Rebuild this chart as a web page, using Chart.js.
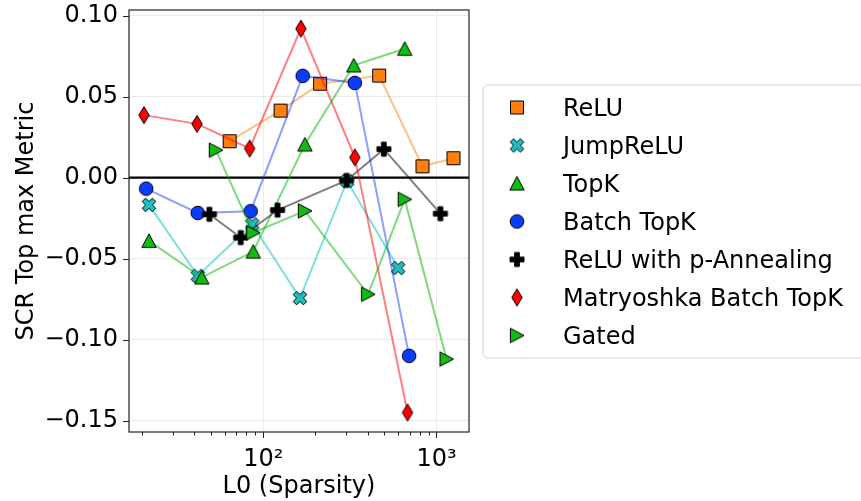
<!DOCTYPE html>
<html>
<head>
<meta charset="utf-8">
<script src="https://cdn.jsdelivr.net/npm/chart.js@4"></script>
<style>
  html, body { margin: 0; padding: 0; background: #fff; }
  canvas { display: block; }
</style>
</head>
<body>
<canvas id="chart" width="861" height="501"></canvas>
<script>
// SCR top-max metric against L0 sparsity, one series per SAE architecture
const seriesNames = ['ReLU', 'JumpReLU', 'TopK', 'Batch TopK', 'ReLU with p-Annealing', 'Matryoshka Batch TopK', 'Gated'];

const reluL0 = [64, 126, 213, 467, 830, 1254];
const reluScr = [0.0225, 0.0414, 0.058, 0.063, 0.007, 0.012];

const jumpL0 = [21.9, 41.9, 86.4, 163, 305, 601];
const jumpScr = [-0.0168, -0.0606, -0.0288, -0.0743, -0.002, -0.0558];

const topkL0 = [21.9, 44.2, 87.6, 174, 333, 656];
const topkScr = [-0.039, -0.0616, -0.0456, 0.0205, 0.0693, 0.0796];

const batchL0 = [21.1, 41.9, 84.6, 169, 338, 695];
const batchScr = [-0.0068, -0.0218, -0.0207, 0.0628, 0.0585, -0.110];

const pannL0 = [48.9, 74.1, 121, 303, 497, 1054];
const pannScr = [-0.0226, -0.037, -0.020, -0.0017, 0.0176, -0.0222];

const matryL0 = [20.5, 41.5, 83.5, 165, 338, 681];
const matryScr = [0.0386, 0.0332, 0.018, 0.092, 0.0125, -0.145];

const gatedL0 = [53.3, 87.5, 174, 403, 656, 1143];
const gatedScr = [0.017, -0.034, -0.0205, -0.072, -0.0134, -0.112];

const xMajorTicks = [100, 1000];
const xMinorTicks = [20, 30, 40, 50, 60, 70, 80, 90, 200, 300, 400, 500, 600, 700, 800, 900];
const yTicks = [-0.15, -0.10, -0.05, 0.00, 0.05, 0.10];

const FONT = 'DejaVu Sans';

// marker glyphs drawn once into small canvases
function makeMarker(shape, fill) {
  const c = document.createElement('canvas');
  c.width = 22; c.height = 22;
  const g = c.getContext('2d');
  g.translate(11, 11);
  g.beginPath();
  const poly = (pts, s) => {
    pts.forEach(([px, py], i) => i ? g.lineTo(px * s, py * s) : g.moveTo(px * s, py * s));
    g.closePath();
  };
  if (shape === 'square') {
    g.rect(-6.5, -6.5, 13, 13);
  } else if (shape === 'circle') {
    g.arc(0, 0, 6.8, 0, Math.PI * 2);
  } else if (shape === 'triUp') {
    poly([[0, -7], [7.2, 6.6], [-7.2, 6.6]], 1);
  } else if (shape === 'triRight') {
    poly([[7, 0], [-6.6, -7.2], [-6.6, 7.2]], 1);
  } else if (shape === 'thinDiamond') {
    poly([[0, -8.5], [5.2, 0], [0, 8.5], [-5.2, 0]], 1);
  } else if (shape === 'xFilled') {
    poly([[-1, -2], [0, -1], [1, -2], [2, -1], [1, 0], [2, 1], [1, 2], [0, 1], [-1, 2], [-2, 1], [-1, 0], [-2, -1]], 3.4);
  } else if (shape === 'plusFilled') {
    poly([[-1, -3], [-1, -1], [-3, -1], [-3, 1], [-1, 1], [-1, 3], [1, 3], [1, 1], [3, 1], [3, -1], [1, -1], [1, -3]], 14 / 6);
  }
  g.fillStyle = fill;
  g.fill();
  g.lineWidth = 1;
  g.strokeStyle = '#000';
  g.stroke();
  return c;
}

const styles = [
  { shape: 'square', fill: '#ff7f0e', line: 'rgba(255,127,14,0.5)' },
  { shape: 'xFilled', fill: '#1cbfbf', line: 'rgba(0,191,191,0.5)' },
  { shape: 'triUp', fill: '#11bb11', line: 'rgba(0,180,0,0.5)' },
  { shape: 'circle', fill: '#0a3cff', line: 'rgba(0,40,255,0.45)' },
  { shape: 'plusFilled', fill: '#000000', line: 'rgba(0,0,0,0.5)' },
  { shape: 'thinDiamond', fill: '#ff0000', line: 'rgba(255,0,0,0.5)' },
  { shape: 'triRight', fill: '#11bb11', line: 'rgba(0,180,0,0.5)' }
];
styles.forEach(s => { s.marker = makeMarker(s.shape, s.fill); });

const xs = [reluL0, jumpL0, topkL0, batchL0, pannL0, matryL0, gatedL0];
const ys = [reluScr, jumpScr, topkScr, batchScr, pannScr, matryScr, gatedScr];

const datasets = seriesNames.map((name, i) => ({
  label: name,
  data: xs[i].map((x, k) => ({ x: x, y: ys[i][k] })),
  borderColor: styles[i].line,
  borderWidth: 2,
  pointStyle: styles[i].marker,
  pointRadius: 7,
  pointHoverRadius: 7,
  tension: 0,
  fill: false,
  order: seriesNames.length - i
}));

// zero line, spines, tick marks and the legend box
const decorations = {
  id: 'decorations',
  beforeDatasetsDraw(chart) {
    const { ctx, chartArea: a, scales: { y } } = chart;
    const y0 = y.getPixelForValue(0);
    ctx.save();
    ctx.strokeStyle = '#000';
    ctx.lineWidth = 2.2;
    ctx.beginPath();
    ctx.moveTo(a.left, y0);
    ctx.lineTo(a.right, y0);
    ctx.stroke();
    ctx.restore();
  },
  afterDraw(chart) {
    const { ctx, chartArea: a, scales: { x, y } } = chart;
    ctx.save();
    ctx.strokeStyle = '#222';
    ctx.lineWidth = 1.2;
    ctx.strokeRect(a.left, a.top, a.right - a.left, a.bottom - a.top);
    ctx.lineWidth = 1;
    ctx.beginPath();
    xMajorTicks.forEach(v => {
      const px = Math.round(x.getPixelForValue(v)) + 0.5;
      ctx.moveTo(px, a.bottom); ctx.lineTo(px, a.bottom + 6);
    });
    xMinorTicks.forEach(v => {
      const px = Math.round(x.getPixelForValue(v)) + 0.5;
      ctx.moveTo(px, a.bottom); ctx.lineTo(px, a.bottom + 3.5);
    });
    yTicks.forEach(v => {
      const py = Math.round(y.getPixelForValue(v)) + 0.5;
      ctx.moveTo(a.left, py); ctx.lineTo(a.left - 6, py);
    });
    ctx.stroke();

    // legend
    const bx = 483, by = 85, bw = 400, bh = 273, r = 5;
    ctx.beginPath();
    ctx.moveTo(bx + r, by);
    ctx.lineTo(bx + bw - r, by);
    ctx.arcTo(bx + bw, by, bx + bw, by + r, r);
    ctx.lineTo(bx + bw, by + bh - r);
    ctx.arcTo(bx + bw, by + bh, bx + bw - r, by + bh, r);
    ctx.lineTo(bx + r, by + bh);
    ctx.arcTo(bx, by + bh, bx, by + bh - r, r);
    ctx.lineTo(bx, by + r);
    ctx.arcTo(bx, by, bx + r, by, r);
    ctx.closePath();
    ctx.fillStyle = 'rgba(255,255,255,0.8)';
    ctx.fill();
    ctx.strokeStyle = '#d4d4d4';
    ctx.lineWidth = 1;
    ctx.stroke();

    ctx.font = '24px "' + FONT + '"';
    ctx.fillStyle = '#000';
    ctx.textBaseline = 'alphabetic';
    seriesNames.forEach((name, i) => {
      const cy = 107.5 + i * 38;
      const m = styles[i].marker;
      ctx.drawImage(m, 517 - m.width / 2, cy - m.height / 2);
      ctx.fillText(name, 563, cy + 8.5);
    });
    ctx.restore();
  }
};

new Chart(document.getElementById('chart'), {
  type: 'line',
  data: { datasets: datasets },
  plugins: [decorations],
  options: {
    responsive: false,
    animation: false,
    devicePixelRatio: 1,
    events: [],
    layout: { padding: { left: 0, top: 10, right: 392, bottom: 0 } },
    plugins: { legend: { display: false }, tooltip: { enabled: false } },
    scales: {
      x: {
        type: 'logarithmic',
        min: 16.8,
        max: 1541,
        afterBuildTicks(scale) {
          scale.ticks = xMinorTicks.concat(xMajorTicks).sort((a, b) => a - b).map(v => ({ value: v }));
        },
        afterFit(scale) {
          scale.height = 69;
          scale.paddingLeft = 0;
          scale.paddingRight = 0;
        },
        grid: {
          drawTicks: false,
          color: c => (c.tick && xMajorTicks.includes(c.tick.value)) ? '#ebebeb' : 'rgba(0,0,0,0)'
        },
        border: { display: false },
        ticks: {
          autoSkip: false,
          maxRotation: 0,
          padding: 13,
          color: '#000',
          font: { family: FONT, size: 24 },
          callback: v => v === 100 ? '10²' : (v === 1000 ? '10³' : '')
        },
        title: {
          display: true,
          text: 'L0 (Sparsity)',
          color: '#000',
          font: { family: FONT, size: 24 },
          padding: { top: 0, bottom: 0 }
        }
      },
      y: {
        min: -0.157,
        max: 0.1035,
        afterBuildTicks(scale) {
          scale.ticks = yTicks.map(v => ({ value: v }));
        },
        afterFit(scale) {
          scale.width = 129;
          scale.paddingTop = 0;
          scale.paddingBottom = 0;
        },
        grid: { drawTicks: false, color: '#ebebeb' },
        border: { display: false },
        ticks: {
          padding: 11,
          color: '#000',
          font: { family: FONT, size: 24 },
          callback: v => (v < -1e-9 ? '\u2212' : '') + Math.abs(v).toFixed(2)
        },
        title: {
          display: true,
          text: 'SCR Top max Metric',
          color: '#000',
          font: { family: FONT, size: 24 },
          padding: { top: 12, bottom: 0 }
        }
      }
    }
  }
});
</script>
</body>
</html>
